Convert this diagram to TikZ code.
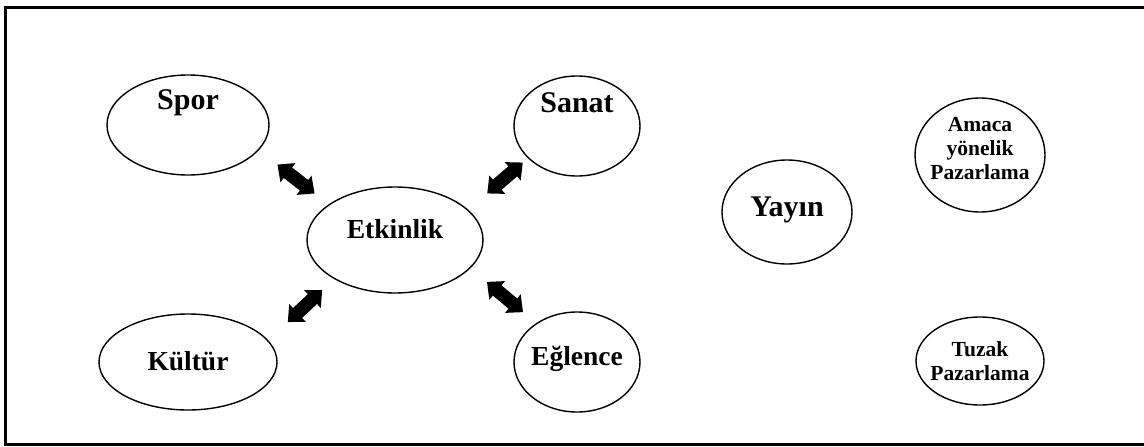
\documentclass[tikz,border=0pt]{standalone}
\usepackage{fontspec}
\setmainfont{Liberation Serif}
\usetikzlibrary{shapes.geometric,shapes.arrows}
\begin{document}
\begin{tikzpicture}[x=1pt,y=-1pt,
  oval/.style={draw,ellipse,line width=1.4pt,inner sep=0pt},
  big/.style={font=\fontsize{30}{32}\selectfont\bfseries},
  mid/.style={font=\fontsize{27.5}{29}\selectfont\bfseries},
  small/.style={font=\fontsize{21.5}{24}\selectfont\bfseries,align=center},
  dblarrow/.style={double arrow,fill=black,draw=none,
    inner xsep=0pt,inner ysep=6.5pt,
    minimum height=47pt,double arrow head extend=5.5pt,
    double arrow tip angle=85}]
\useasboundingbox (0,0) rectangle (1144,447);
% open frame
\draw[line width=3pt,line join=miter] (1144,7.5) -- (5.5,7.5) -- (5.5,444.5) -- (1144,444.5);

% ovals
\node[oval,minimum width=162pt,minimum height=100pt] (spor) at (188,125) {};
\node[oval,minimum width=126pt,minimum height=100pt] (sanat) at (577,126) {};
\node[oval,minimum width=176pt,minimum height=106pt] (etk) at (395,240) {};
\node[oval,minimum width=178pt,minimum height=96pt] (kultur) at (188,362) {};
\node[oval,minimum width=126pt,minimum height=100pt] (eglence) at (577,362) {};
\node[oval,minimum width=130pt,minimum height=104pt] (yayin) at (787,212) {};
\node[oval,minimum width=130pt,minimum height=114pt] (amaca) at (980,155) {};
\node[oval,minimum width=128pt,minimum height=88pt] (tuzak) at (980,361) {};

% labels
\node[big] (tspor) at (188,103) {Spor};
\node[big] (tsanat) at (577,103) {Sanat};
\node[mid] (tetk) at (395,229) {Etkinlik};
\node[mid] (tkultur) at (188,361) {Kültür};
\node[mid] (teglence) at (577,359) {Eğlence};
\node[big] (tyayin) at (787,210) {Yayın};
\node[small] (tamaca) at (980,149) {Amaca\\yönelik\\Pazarlama};
\node[small] (ttuzak) at (980,361) {Tuzak\\Pazarlama};

% two-headed block arrows
\node[dblarrow,rotate=-38] (a1) at (296,179) {};
\node[dblarrow,rotate=41] (a2) at (505,178) {};
\node[dblarrow,rotate=43] (a3) at (305,306) {};
\node[dblarrow,rotate=-40] (a4) at (505,297) {};
\end{tikzpicture}
\end{document}
